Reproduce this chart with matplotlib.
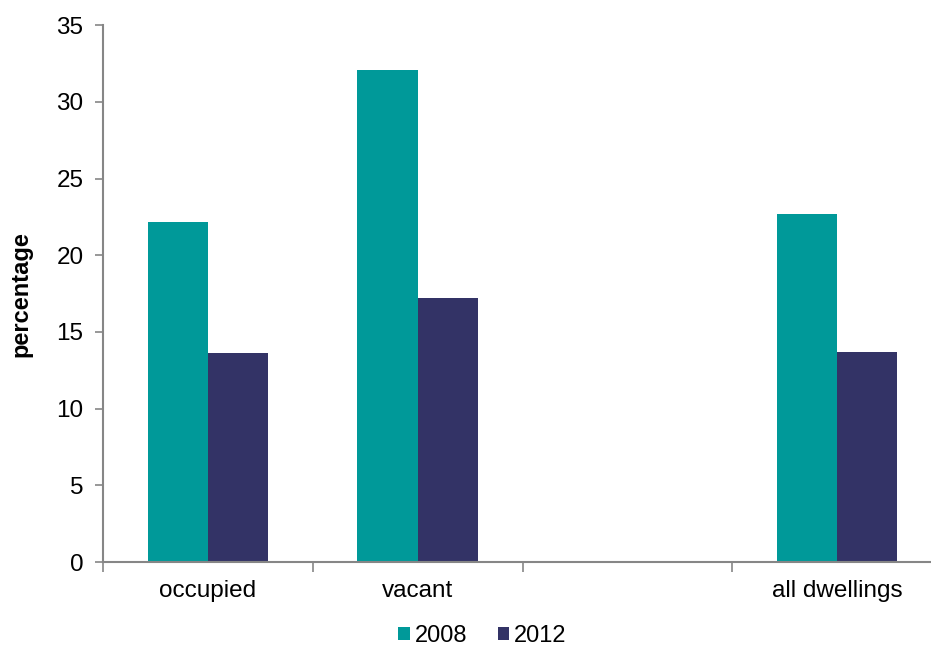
import numpy as np
import matplotlib.pyplot as plt

categories = ["occupied", "vacant", "", "all dwellings"]
series_2008 = [22.2, 32.1, np.nan, 22.7]
series_2012 = [13.6, 17.2, np.nan, 13.7]
years = ["2008", "2012"]
yticks = [0, 5, 10, 15, 20, 25, 30, 35]

plt.rcParams['font.family'] = ['Liberation Sans', 'DejaVu Sans']

fig = plt.figure(figsize=(9.31, 6.46), dpi=100)
ax = fig.add_axes([0.1106, 0.130, 0.9014, 0.831])

x = np.arange(len(categories))
w = 0.287
ax.bar(x - w / 2, series_2008, w, color="#009999", label=years[0])
ax.bar(x + w / 2, series_2012, w, color="#333366", label=years[1])

ax.set_ylim(0, 35)
ax.set_yticks(yticks)
ax.set_xlim(-0.5, 3.5)
# ticks sit between the categories, labels at the centres
ax.set_xticks(np.arange(-0.5, 4, 1))
ax.set_xticklabels([])
ax.set_xticks(x, minor=True)
ax.set_xticklabels(categories, minor=True)
ax.tick_params(axis="x", which="minor", length=0, pad=13, labelsize=17.5)
ax.tick_params(axis="x", which="major", length=7, color="#868686", width=1.2)
ax.tick_params(axis="y", length=6, color="#868686", width=1.2, labelsize=17.5, pad=8)

for s in ["top", "right"]:
    ax.spines[s].set_visible(False)
for s in ["left", "bottom"]:
    ax.spines[s].set_color("#868686")
    ax.spines[s].set_linewidth(1.5)

ax.set_ylabel("percentage", fontsize=17, fontweight="bold")
ax.yaxis.set_label_coords(-0.084, 0.5)

ax.legend(loc="upper center", bbox_to_anchor=(0.452, -0.078), ncol=2, frameon=False,
          fontsize=17, handlelength=0.5, handleheight=0.5, handletextpad=0.2,
          columnspacing=1.3)

fig.savefig("out.png", dpi=100)
